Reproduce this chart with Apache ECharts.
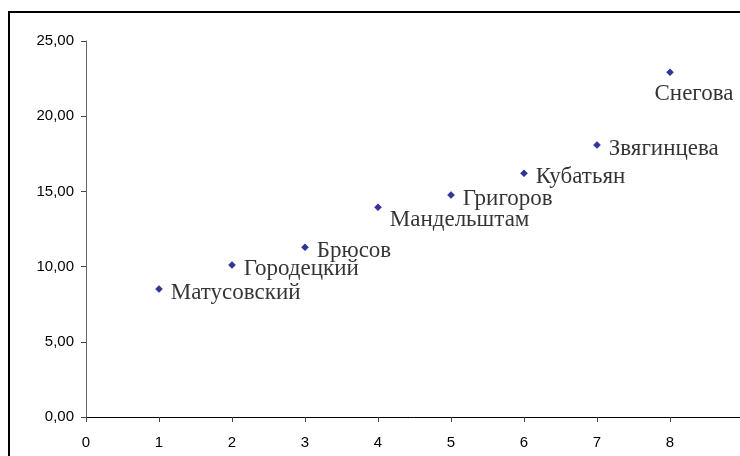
<!DOCTYPE html>
<html>
<head>
<meta charset="utf-8">
<script src="https://cdn.jsdelivr.net/npm/echarts@6/dist/echarts.min.js"></script>
<style>
  html, body { margin: 0; padding: 0; background: #fff; }
  #chart { width: 740px; height: 456px; }
</style>
</head>
<body>
<div id="chart"></div>
<script>
const names = ['Матусовский', 'Городецкий', 'Брюсов', 'Мандельштам', 'Григоров', 'Кубатьян', 'Звягинцева', 'Снегова'];
const xValues = [1, 2, 3, 4, 5, 6, 7, 8];
const yValues = [8.51, 10.11, 11.28, 13.94, 14.76, 16.2, 18.09, 22.92];
const xTicks = [0, 1, 2, 3, 4, 5, 6, 7, 8];

const labelFont = { fontFamily: 'Liberation Serif', fontSize: 23, color: '#000' };
const labelFor = (i) => {
  if (names[i] === 'Снегова') return { show: true, position: 'bottom', distance: 6, offset: [24, 0], ...labelFont };
  if (names[i] === 'Мандельштам') return { show: true, position: 'right', distance: 8, offset: [0, 13], ...labelFont };
  return { show: true, position: 'right', distance: 8, offset: [0, 4], ...labelFont };
};

const points = names.map((n, i) => ({
  name: n,
  value: [xValues[i], yValues[i]],
  label: labelFor(i)
}));

const chart = echarts.init(document.getElementById('chart'));
chart.setOption({
  animation: false,
  graphic: [{
    type: 'rect',
    shape: { x: 9, y: 12, width: 800, height: 500 },
    style: { fill: 'none', stroke: '#000', lineWidth: 2 },
    silent: true
  }],
  grid: { left: 86, top: 41, width: 657, height: 376, containLabel: false, outerBoundsMode: 'none' },
  xAxis: {
    type: 'value',
    min: 0,
    max: 9,
    interval: 1,
    splitLine: { show: false },
    axisLine: { lineStyle: { color: '#000', width: 1 } },
    axisTick: { length: 5, lineStyle: { color: '#444' } },
    axisLabel: {
      margin: 18,
      fontFamily: 'Liberation Sans',
      fontSize: 15,
      color: '#000',
      formatter: (v) => (xTicks.includes(v) ? String(v) : '')
    }
  },
  yAxis: {
    type: 'value',
    min: 0,
    max: 25,
    interval: 5,
    splitLine: { show: false },
    axisLine: { show: true, lineStyle: { color: '#666', width: 1 } },
    axisTick: { show: true, length: 5, lineStyle: { color: '#444' } },
    axisLabel: {
      margin: 12,
      fontFamily: 'Liberation Sans',
      fontSize: 15,
      color: '#000',
      formatter: (v) => v.toFixed(2).replace('.', ',')
    }
  },
  series: [{
    type: 'scatter',
    symbol: 'diamond',
    symbolSize: 7,
    itemStyle: { color: '#000080', borderColor: '#000080', borderWidth: 0.5 },
    label: { formatter: '{b}' },
    data: points
  }]
});
</script>
</body>
</html>
